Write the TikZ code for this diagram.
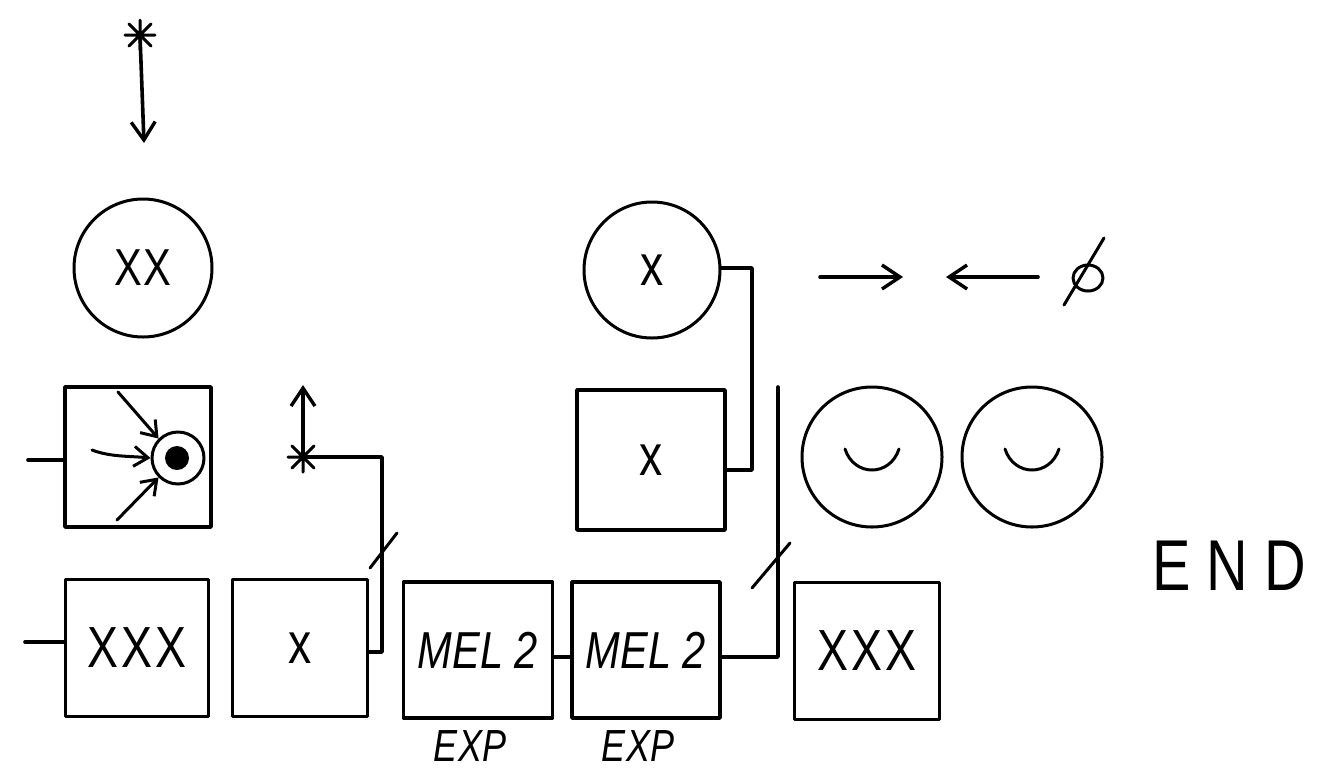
\documentclass[tikz,border=0pt]{standalone}
\usepackage{fontspec}
\setmainfont{Liberation Sans}
\newfontfamily\hand[FakeStretch=0.8]{Liberation Sans}
\usetikzlibrary{arrows.meta}
\begin{document}
\begin{tikzpicture}[x=1pt,y=-1pt,
  line width=3.6pt, line cap=round, line join=round,
  box/.style={draw, rectangle, inner sep=0pt, line width=3.6pt},
  ring/.style={draw, circle, inner sep=0pt, line width=3pt},
  big/.style={font=\hand\fontsize{58}{60}\selectfont},
  small/.style={font=\hand\fontsize{58}{60}\selectfont},
  mel/.style={font=\hand\itshape\fontsize{52}{54}\selectfont},
  exp/.style={font=\hand\itshape\fontsize{45}{47}\selectfont},
  arr/.style={-{Straight Barb[length=18pt,width=24pt,line width=3.4pt]}},
  sarr/.style={-{Straight Barb[length=14pt,width=20pt,line width=3pt]}},
  thin/.style={line width=3pt},
  astr/.pic={\draw[line width=3pt] (0,-15)--(0,15) (-15,0)--(15,0) (-11,-11)--(11,11) (-11,11)--(11,-11);}
]
\useasboundingbox (0,0) rectangle (1321,772);

% top-left column
\node[ring, minimum size=138pt, font=\hand\fontsize{52}{54}\selectfont] (xxC) at (143,268) {X\kern2pt X};
\coordinate (astA) at (140,35);
\coordinate (arrA) at (144,143);
\pic at (astA) {astr};
\draw[arr] (astA) -- (arrA);

\node[box, minimum width=146pt, minimum height=140pt] (eyeBox) at (138,457) {};
\coordinate (stubA) at (28,460);
\draw (stubA) -- (stubA -| eyeBox.west);
\node[ring, minimum size=52pt] (eye) at (178,458) {};
\node[circle, fill, inner sep=0pt, minimum size=24pt] (pupil) at (177,458) {};
\coordinate (rayA) at (118,392);
\coordinate (rayB) at (92,450);
\coordinate (rayC) at (117,520);
\draw[sarr, thin] (rayA) -- (eye.north west);
\draw[sarr, thin] (rayB) .. controls (110,457) and (130,456) .. (eye.west);
\draw[sarr, thin] (rayC) -- (eye.south west);

% bottom row
\node[box, big, minimum width=143pt, minimum height=137pt] (xxxL) at (137,648) {X\kern3pt X\kern3pt X};
\coordinate (stubB) at (25,642);
\draw (stubB) -- (stubB -| xxxL.west);

\node[box, small, minimum width=135pt, minimum height=137pt] (xB) at (300,648) {x};
\coordinate (astB) at (303,457);
\coordinate (arrB) at (303,385);
\coordinate (cB1) at (382,652);
\coordinate (cB2) at (382,457);
\pic at (astB) {astr};
\draw (xB.east |- cB1) -- (cB1) -- (cB2) -- (astB);
\draw[arr] (astB) -- (arrB);
\coordinate (slA1) at (370,568);
\coordinate (slA2) at (397,533);
\draw[thin] (slA1) -- (slA2);

\node[box, mel, minimum width=149pt, minimum height=136pt] (mel1) at (478,650) {MEL 2};
\node[box, mel, minimum width=148pt, minimum height=136pt] (mel2) at (646,650) {MEL 2};
\node[exp, anchor=north] (exp1) at (470,725) {EXP};
\node[exp, anchor=north] (exp2) at (638,725) {EXP};
\draw (mel1.east |- 0,657) -- (mel2.west |- 0,657);

\coordinate (cC1) at (778,657);
\coordinate (cC2) at (778,387);
\draw (mel2.east |- cC1) -- (cC1) -- (cC2);
\coordinate (slB1) at (752,588);
\coordinate (slB2) at (790,543);
\draw[thin] (slB1) -- (slB2);

% upper middle
\node[box, small, minimum width=148pt, minimum height=140pt] (xUp) at (651,460) {x};
\node[ring, small, minimum size=136pt] (xC) at (652,270) {x};
\coordinate (cD1) at (752,470);
\coordinate (cD2) at (752,268);
\draw (xUp.east |- cD1) -- (cD1) -- (cD2) -- (xC.east |- cD2);

% arrows and empty set
\coordinate (aR1) at (820,277);
\coordinate (aR2) at (903,277);
\coordinate (aL1) at (1038,277);
\coordinate (aL2) at (946,277);
\draw[arr] (aR1) -- (aR2);
\draw[arr] (aL1) -- (aL2);
\coordinate (empty) at (1088,278);
\draw[thin] (empty) ellipse [x radius=15pt, y radius=13pt];
\draw[thin] (1064,305) -- (1104,238);

% smiling circles
\node[ring, minimum size=140pt] (sm1) at (872,457) {};
\node[ring, minimum size=140pt] (sm2) at (1032,457) {};
\foreach \s in {sm1,sm2}
  \draw[thin] ([shift={(-27,-8)}]\s.center) .. controls ([shift={(-18,20)}]\s.center) and ([shift={(18,20)}]\s.center) .. ([shift={(27,-8)}]\s.center);

\node[box, big, minimum width=145pt, minimum height=137pt] (xxxR) at (867,651) {X\kern3pt X\kern3pt X};

\node[font=\hand\fontsize{72}{74}\selectfont] (endT) at (1229,566) {E\kern16pt N\kern16pt D};
\end{tikzpicture}
\end{document}
